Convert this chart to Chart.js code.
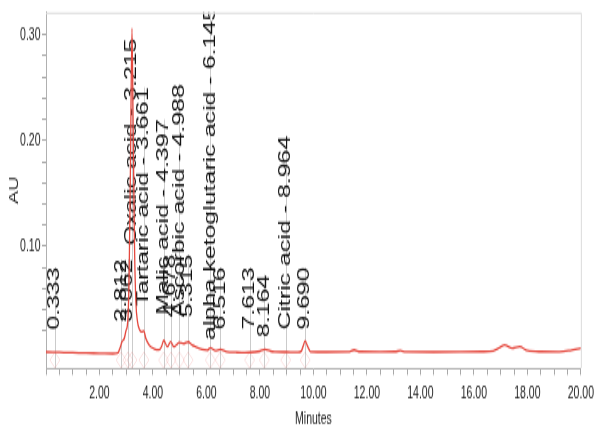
<!DOCTYPE html>
<html lang="en">
<head>
    <meta charset="UTF-8">
    <title>Chromatogram</title>
    <script src="https://cdn.jsdelivr.net/npm/chart.js"></script>
    <style>
        body { margin: 0; background: #fff; }
    </style>
</head>
<body>
    <!-- chart is drawn at 599x270 and stretched to 432 tall, like the source image -->
    <canvas id="chroma" width="599" height="270" style="display:block;width:599px;height:432px"></canvas>
    <script>
        // Trace (minutes, AU)
        const traceMinutes = [0.00, 0.50, 1.00, 1.50, 2.00, 2.50, 2.68, 2.77, 2.84, 2.93, 2.99, 3.06, 3.11, 3.16, 3.215, 3.26, 3.31, 3.36, 3.42, 3.50,
            3.58, 3.66, 3.73, 3.86, 4.05, 4.23, 4.32, 4.40, 4.54, 4.66, 4.78, 4.88, 4.97, 5.16, 5.32, 5.46, 5.59, 5.83, 6.03, 6.15,
            6.33, 6.52, 6.76, 7.10, 7.44, 7.81, 8.00, 8.19, 8.40, 8.56, 9.00, 9.42, 9.55, 9.62, 9.69, 9.78, 9.89, 10.50, 11.30, 11.52,
            11.75, 12.50, 13.05, 13.25, 13.45, 14.50, 15.50, 16.30, 16.72, 16.95, 17.15, 17.43, 17.71, 18.01, 18.50, 19.19, 19.60, 20.00];
        const traceAU = [0.0000, -0.0003, -0.0006, -0.0010, -0.0012, -0.0015, -0.0010, 0.0040, 0.0095, 0.0130, 0.0200, 0.0300, 0.0750, 0.1800, 0.3060, 0.2100, 0.1000, 0.0480, 0.0290, 0.0210,
            0.0190, 0.0200, 0.0130, 0.0066, 0.0030, 0.0020, 0.0050, 0.0110, 0.0050, 0.0097, 0.0050, 0.0068, 0.0088, 0.0080, 0.0095, 0.0066, 0.0050, 0.0025, 0.0018, 0.0040,
            0.0013, 0.0025, 0.0003, -0.0003, -0.0006, 0.0000, 0.0008, 0.0025, 0.0008, 0.0003, 0.0000, -0.0003, 0.0010, 0.0060, 0.0104, 0.0055, 0.0003, 0.0000, 0.0002, 0.0019,
            0.0004, 0.0002, 0.0004, 0.0012, 0.0002, 0.0000, 0.0001, 0.0004, 0.0010, 0.0040, 0.0066, 0.0035, 0.0050, 0.0012, 0.0004, 0.0003, 0.0015, 0.0035];

        // Peak labels
        const peakMinutes = [0.333, 2.812, 3.062, 3.215, 3.661, 4.397, 4.678, 4.988, 5.315, 6.145, 6.516, 7.613, 8.164, 8.964, 9.690];
        const peakNames = ['0.333', '2.812', '3.062', 'Oxalic acid - 3.215', 'Tartaric acid - 3.661', 'Malic acid - 4.397', '4.678',
            'Ascorbic acid - 4.988', '5.315', 'alpha ketoglutaric acid - 6.145', '6.516', '7.613', '8.164', 'Citric acid - 8.964', '9.690'];
        const peakLabelFromAU = [0.018, 0.0255, 0.0255, 0.098, 0.040, 0.032, 0.030, 0.030, 0.030, 0.0085, 0.018, 0.018, 0.011, 0.018, 0.018];

        const xTickLabels = ['2.00', '4.00', '6.00', '8.00', '10.00', '12.00', '14.00', '16.00', '18.00', '20.00'];
        const yTickLabels = ['0.00', '0.10', '0.20', '0.30'];

        const FONT = "'Liberation Sans', Arial, sans-serif";
        const fmt = v => (Math.round(v * 100) / 100 + 0).toFixed(2);

        // peak names written upward above each peak, with a faint drop line
        const peakLabels = {
            id: 'peakLabels',
            beforeDatasetsDraw(chart) {
                const { ctx, chartArea, scales: { x, y } } = chart;
                ctx.save();
                ctx.beginPath();
                ctx.rect(chartArea.left, chartArea.top, chartArea.right - chartArea.left, chartArea.bottom - chartArea.top);
                ctx.clip();
                ctx.font = '15.6px ' + FONT;
                peakMinutes.forEach((t, i) => {
                    const px = x.getPixelForValue(t);
                    const py = y.getPixelForValue(peakLabelFromAU[i]);
                    const w = ctx.measureText(peakNames[i]).width;
                    ctx.strokeStyle = 'rgba(160,160,160,0.55)';
                    ctx.lineWidth = 1;
                    ctx.beginPath();
                    ctx.moveTo(Math.round(px) + 0.5, Math.max(chartArea.top, py - w - 2));
                    ctx.lineTo(Math.round(px) + 0.5, chartArea.bottom);
                    ctx.stroke();
                    ctx.save();
                    ctx.translate(px, py - 2);
                    ctx.rotate(-Math.PI / 2);
                    ctx.fillStyle = '#111';
                    ctx.textAlign = 'left';
                    ctx.textBaseline = 'middle';
                    ctx.fillText(peakNames[i], 0, 0);
                    ctx.restore();
                });
                ctx.restore();
            }
        };

        // light frame on top and right of the plot
        const plotFrame = {
            id: 'plotFrame',
            afterDraw(chart) {
                const { ctx, chartArea: a } = chart;
                ctx.save();
                ctx.strokeStyle = '#dcdcdc';
                ctx.lineWidth = 1;
                ctx.beginPath();
                ctx.moveTo(a.left, a.top + 0.5);
                ctx.lineTo(a.right + 0.5, a.top + 0.5);
                ctx.lineTo(a.right + 0.5, a.bottom);
                ctx.stroke();
                ctx.restore();
            }
        };

        const ctx = document.getElementById('chroma').getContext('2d');
        const chroma = new Chart(ctx, {
            type: 'line',
            data: {
                datasets: [
                    {
                        data: traceMinutes.map((t, i) => ({ x: t, y: traceAU[i] })),
                        borderColor: '#e5483e',
                        borderWidth: 1.3,
                        pointRadius: 0,
                        fill: false,
                        cubicInterpolationMode: 'monotone',
                        order: 0
                    },
                    {
                        // faint integration marks under each peak
                        data: peakMinutes.map(t => ({ x: t, y: -0.0076 })),
                        showLine: false,
                        pointStyle: 'rectRot',
                        pointRadius: 5,
                        borderWidth: 1,
                        borderColor: 'rgba(235,120,120,0.22)',
                        backgroundColor: 'rgba(0,0,0,0)',
                        order: 1
                    }
                ]
            },
            options: {
                responsive: false,
                devicePixelRatio: 1,
                animation: false,
                layout: { padding: { left: 0, right: 14, top: 7.5, bottom: 0 } },
                plugins: { legend: { display: false }, tooltip: { enabled: false } },
                scales: {
                    x: {
                        type: 'linear',
                        min: 0,
                        max: 20,
                        afterFit: s => { s.height = 40; },
                        ticks: {
                            stepSize: 0.5,
                            autoSkip: false,
                            maxRotation: 0,
                            padding: 5,
                            color: '#222',
                            font: { family: FONT, size: 10.5 },
                            callback: v => xTickLabels.includes(fmt(v)) ? fmt(v) : ''
                        },
                        grid: { drawOnChartArea: false, drawTicks: true, tickLength: 4.4, color: '#a8a8a8' },
                        border: { color: '#b0b0b0' },
                        title: {
                            display: true,
                            text: 'Minutes',
                            color: '#222',
                            font: { family: FONT, size: 10.5 },
                            padding: { top: 0, bottom: 1.7 }
                        }
                    },
                    y: {
                        min: -0.0151,
                        max: 0.321,
                        afterFit: s => { s.width = 46; },
                        afterBuildTicks: s => {
                            s.ticks = s.ticks.filter(t => t.value > -1e-9 && Math.abs(t.value / 0.02 - Math.round(t.value / 0.02)) < 1e-6);
                        },
                        ticks: {
                            stepSize: 0.02,
                            autoSkip: false,
                            padding: 1.5,
                            color: '#222',
                            font: { family: FONT, size: 10.5 },
                            callback: v => yTickLabels.includes(fmt(v)) ? fmt(v) : ''
                        },
                        grid: { drawOnChartArea: false, drawTicks: true, tickLength: 4, color: '#a8a8a8' },
                        border: { color: '#b0b0b0' },
                        title: {
                            display: true,
                            text: 'AU',
                            color: '#222',
                            font: { family: FONT, size: 12.5 },
                            padding: { top: 7.5, bottom: 0 }
                        }
                    }
                }
            },
            plugins: [peakLabels, plotFrame]
        });
    </script>
</body>
</html>
